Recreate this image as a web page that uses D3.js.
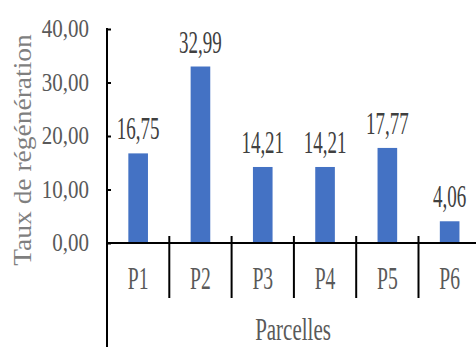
<!DOCTYPE html>
<html>
<head>
<meta charset="utf-8">
<script src="https://cdn.jsdelivr.net/npm/d3@7/dist/d3.min.js"></script>
<style>
  html, body { margin: 0; padding: 0; background: #fff; }
  svg { display: block; }
  text { font-family: "Liberation Serif", "Times New Roman", serif; }
</style>
</head>
<body>
<div id="chart"></div>
<script>
// Regeneration rate per plot
const categories = ["P1", "P2", "P3", "P4", "P5", "P6"];
const values = [16.75, 32.99, 14.21, 14.21, 17.77, 4.06];
const yTicks = [0, 10, 20, 30, 40];
const yTitle = "Taux de régénération";
const xTitle = "Parcelles";

const W = 476, H = 347;
const fmt = v => d3.format(".2f")(v).replace(".", ",");

const svg = d3.select("#chart").append("svg")
  .attr("width", W).attr("height", H);

const axisX = 107;      // left edge of plot / value axis line
const baseY = 243;      // zero line

const x = d3.scaleBand()
  .domain(categories)
  .range([axisX, axisX + 6 * 62.3])
  .padding(0);

const y = d3.scaleLinear()
  .domain([0, 40])
  .range([baseY, 29]);

const barW = x.bandwidth() * 0.315;

// bars
svg.append("g").selectAll("rect")
  .data(categories)
  .join("rect")
  .attr("x", (d) => x(d) + x.bandwidth() / 2 - barW / 2)
  .attr("y", (d, i) => y(values[i]))
  .attr("width", barW)
  .attr("height", (d, i) => y(0) - y(values[i]))
  .attr("fill", "#4472C4");

// value axis: line + inward ticks
const yAxis = d3.axisRight(y)
  .tickValues(yTicks)
  .tickSize(4)
  .tickFormat("");
const gy = svg.append("g")
  .attr("transform", `translate(${axisX},0)`)
  .call(yAxis);
gy.select(".domain").remove();
gy.selectAll(".tick line").attr("stroke", "#000").attr("stroke-width", 2);
svg.append("line")
  .attr("x1", axisX).attr("x2", axisX)
  .attr("y1", y(40) - 1).attr("y2", H)
  .attr("stroke", "#000").attr("stroke-width", 2);

// tick labels
svg.append("g").selectAll("text")
  .data(yTicks)
  .join("text")
  .attr("transform", d => `translate(89,${y(d) + 8}) scale(1,1.15)`)
  .attr("text-anchor", "end")
  .attr("font-size", 21)
  .attr("fill", "#595959")
  .text(d => fmt(d));

// category axis: baseline + separators between plots
svg.append("line")
  .attr("x1", axisX).attr("x2", W)
  .attr("y1", baseY).attr("y2", baseY)
  .attr("stroke", "#000").attr("stroke-width", 2);

svg.append("g").selectAll("line")
  .data(categories.slice(1))
  .join("line")
  .attr("x1", d => x(d)).attr("x2", d => x(d))
  .attr("y1", baseY - 7).attr("y2", 298)
  .attr("stroke", "#000").attr("stroke-width", 2);

// category labels
svg.append("g").selectAll("text")
  .data(categories)
  .join("text")
  .attr("transform", d => `translate(${x(d) + x.bandwidth() / 2},289) scale(1,1.6)`)
  .attr("text-anchor", "middle")
  .attr("font-size", 19.6)
  .attr("fill", "#595959")
  .text(d => d);

// data labels
svg.append("g").selectAll("text")
  .data(categories)
  .join("text")
  .attr("transform", (d, i) => `translate(${x(d) + x.bandwidth() / 2},${y(values[i]) - 14}) scale(1,1.68)`)
  .attr("text-anchor", "middle")
  .attr("font-size", 19)
  .attr("fill", "#404040")
  .text((d, i) => fmt(values[i]));

// axis titles
svg.append("text")
  .attr("transform", `translate(293,340) scale(1,1.5)`)
  .attr("text-anchor", "middle")
  .attr("font-size", 21)
  .attr("fill", "#595959")
  .text(xTitle);

svg.append("text")
  .attr("transform", `translate(31,150) rotate(-90) scale(1.1,1)`)
  .attr("text-anchor", "middle")
  .attr("font-size", 25)
  .attr("fill", "#7f7f7f")
  .text(yTitle);
</script>
</body>
</html>
